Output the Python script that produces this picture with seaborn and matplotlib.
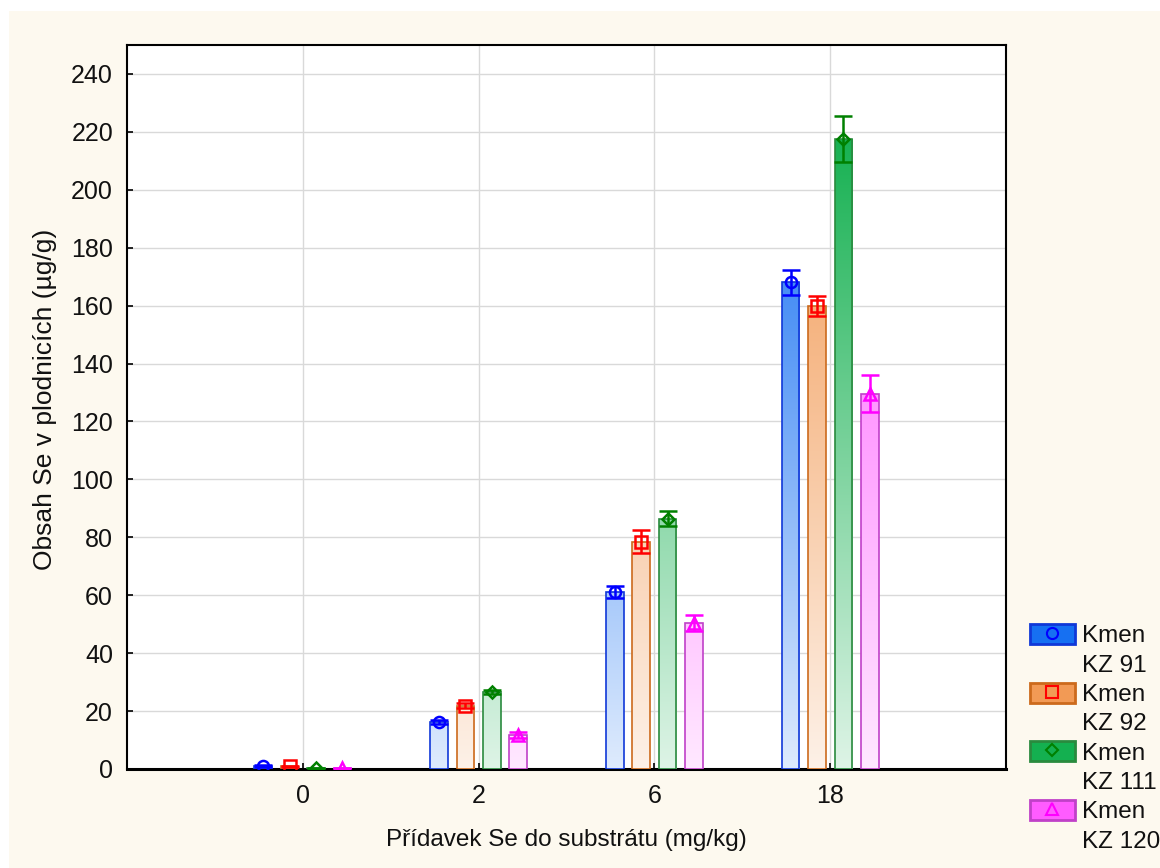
import numpy as np
import pandas as pd
import seaborn as sns
import matplotlib
matplotlib.use("Agg")
import matplotlib.pyplot as plt
from matplotlib.patches import Rectangle, Patch
from matplotlib.lines import Line2D
from matplotlib.colors import to_rgb

# ---------------- data ----------------
doses = ["0", "2", "6", "18"]
strains = ["KZ 91", "KZ 92", "KZ 111", "KZ 120"]

kz91 = [1.0, 16.2, 61.2, 168.0]
kz91_err = [0.4, 0.8, 2.1, 4.3]
kz92 = [0.9, 21.8, 78.5, 159.9]
kz92_err = [0.3, 0.9, 3.9, 3.5]
kz111 = [0.3, 26.6, 86.4, 217.5]
kz111_err = [0.2, 0.8, 2.6, 8.0]
kz120 = [0.2, 11.8, 50.4, 129.6]
kz120_err = [0.2, 1.0, 2.9, 6.3]

values = [kz91, kz92, kz111, kz120]
errors = [kz91_err, kz92_err, kz111_err, kz120_err]

base_colors = ["#1670f2", "#f29a55", "#14b050", "#ff5cff"]
edge_colors = ["#1038d8", "#cc6a1c", "#2a8a3e", "#c040c8"]
marker_colors = ["#0000ff", "#ff0000", "#008000", "#ff00ff"]
markers = ["o", "s", "D", "^"]

rows = []
for s, vals in zip(strains, values):
    for d, v in zip(doses, vals):
        rows.append({"dose": d, "strain": s, "value": v})
df = pd.DataFrame(rows)

# ---------------- figure ----------------
sns.set_theme(style="white")
plt.rcParams["font.family"] = ["Liberation Sans", "DejaVu Sans"]

W, H = 1160, 868
fig = plt.figure(figsize=(W / 100, H / 100), dpi=100, facecolor="white")
fig.patches.append(Rectangle((9 / W, 0), 1, 1 - 11 / H, transform=fig.transFigure,
                             facecolor="#fdf9ef", edgecolor="none", zorder=-10))

ax = fig.add_axes([127 / W, 1 - 769 / H, (1006 - 127) / W, (769 - 45) / H])
ax.set_facecolor("white")

YMAX = 250
sns.barplot(data=df, x="dose", y="value", hue="strain", order=doses, hue_order=strains,
            palette=base_colors, width=0.6, gap=0.33, errorbar=None, legend=False, ax=ax,
            zorder=3)

bar_containers = list(ax.containers)
grad = np.linspace(0, 1, 256).reshape(-1, 1)
for i, cont in enumerate(bar_containers):
    base = np.array(to_rgb(base_colors[i]))
    f = np.clip(0.14 + 0.97 * grad, 0, 1)[..., None]
    img = 1 - f * (1 - base)
    xs = []
    for p in cont.patches:
        x0, w = p.get_x(), p.get_width()
        xs.append(x0 + w / 2)
        p.set_facecolor("none")
        p.set_edgecolor(edge_colors[i])
        p.set_linewidth(1.2)
        p.set_zorder(4)
        im = ax.imshow(img, extent=(x0, x0 + w, 0, YMAX), origin="lower",
                       aspect="auto", zorder=3, interpolation="bilinear")
        im.set_clip_path(p)
    ax.errorbar(xs, values[i], yerr=errors[i], fmt="none", ecolor=marker_colors[i],
                elinewidth=1.8, capsize=6.5, capthick=1.8, zorder=6)
    ax.plot(xs, values[i], linestyle="none", marker=markers[i], mfc="none",
            mec=marker_colors[i], ms=8 if markers[i] != "D" else 6.5, mew=1.8, zorder=7)

ax.set_xlim(-1, 4)
ax.set_ylim(0, YMAX)
ax.set_yticks(np.arange(0, 241, 20))
ax.grid(True, color="#d9d9d9", linewidth=1.0, zorder=0)
ax.set_axisbelow(True)

for sp in ax.spines.values():
    sp.set_visible(True)
    sp.set_color("black")
    sp.set_linewidth(1.5)
ax.spines["bottom"].set_linewidth(2.2)

ax.tick_params(axis="both", direction="in", length=4, width=1.2, color="black",
               labelsize=18, labelcolor="#111111", left=True, bottom=True)
ax.tick_params(axis="y", pad=10)
ax.tick_params(axis="x", pad=11)

ax.set_xlabel("Přídavek Se do substrátu (mg/kg)", fontsize=17.5, color="#111111", labelpad=15)
ax.set_ylabel("Obsah Se v plodnicích (µg/g)", fontsize=19, color="#111111")
ax.yaxis.set_label_coords(-0.080, 0.511)

# legend
handles, labels = [], []
for i, s in enumerate(strains):
    h = (Patch(facecolor=base_colors[i], edgecolor=edge_colors[i], linewidth=2.0),
         Line2D([], [], linestyle="none", marker=markers[i], mfc="none",
                mec=marker_colors[i], ms=8 if markers[i] != "D" else 6.5, mew=1.5))
    handles.append(h)
    labels.append("Kmen")
    handles.append(Patch(facecolor="none", edgecolor="none"))
    labels.append(s)

leg = fig.legend(handles, labels, loc="upper left",
                 bbox_to_anchor=(1030 / W, 1 - 624 / H), bbox_transform=fig.transFigure,
                 frameon=False, fontsize=17.5, handlelength=1.85, handleheight=0.9,
                 handletextpad=0.3, labelspacing=0.24, borderpad=0, borderaxespad=0)
for t in leg.get_texts():
    t.set_color("#111111")

fig.savefig("out.png", dpi=100, facecolor=fig.get_facecolor())
